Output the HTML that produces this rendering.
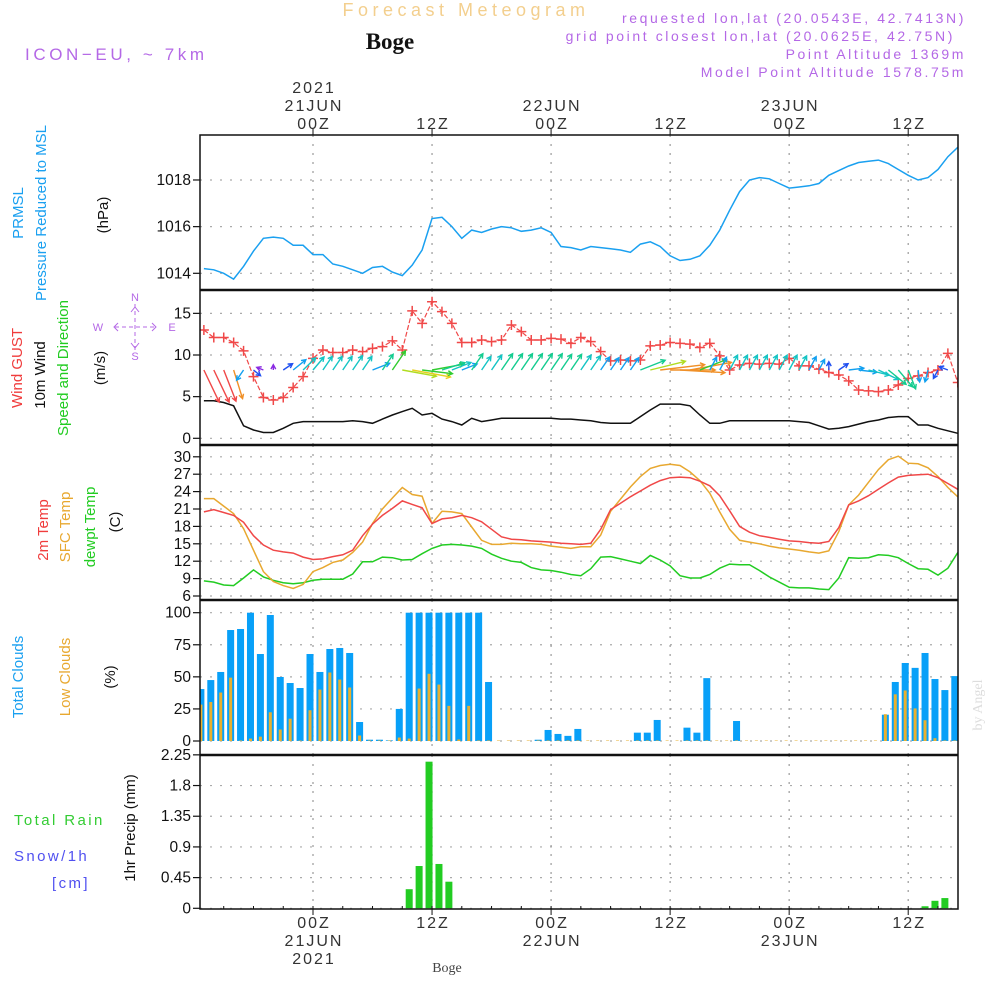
<!DOCTYPE html>
<html><head><meta charset="utf-8">
<style>
html,body{margin:0;padding:0;background:#fff;}
svg{display:block;font-family:"Liberation Sans",sans-serif;}
</style></head>
<body>
<svg id="chart" width="1000" height="1000" viewBox="0 0 1000 1000" xmlns="http://www.w3.org/2000/svg">
  <text x="466" y="16" text-anchor="middle" font-size="18" fill="#f3cf8e" letter-spacing="4.5">Forecast Meteogram</text>
  <text x="390" y="49" text-anchor="middle" font-size="23" font-weight="bold" font-family="Liberation Serif, serif" fill="#111">Boge</text>
  <text x="25" y="60" font-size="17" fill="#b468e6" letter-spacing="3.6">ICON−EU, ~ 7km</text>
  <g font-size="14" fill="#b468e6" text-anchor="end" letter-spacing="2.6">
    <text x="966" y="23">requested lon,lat (20.0543E, 42.7413N)</text>
    <text x="955" y="41">grid point closest lon,lat (20.0625E, 42.75N)</text>
    <text x="966" y="59">Point Altitude 1369m</text>
    <text x="966" y="77">Model Point Altitude 1578.75m</text>
  </g>
  <g font-size="15" text-anchor="middle">
    <text transform="translate(23,213) rotate(-90)" fill="#1aa0f0">PRMSL</text>
    <text transform="translate(46,213) rotate(-90)" fill="#1aa0f0">Pressure Reduced to MSL</text>
    <text transform="translate(108,215) rotate(-90)" fill="#111">(hPa)</text>
    <text transform="translate(22,368) rotate(-90)" fill="#f03c3c">Wind GUST</text>
    <text transform="translate(45,375) rotate(-90)" fill="#111">10m Wind</text>
    <text transform="translate(68,368) rotate(-90)" fill="#22cc22">Speed and Direction</text>
    <text transform="translate(105,368) rotate(-90)" fill="#111">(m/s)</text>
    <text transform="translate(48,530) rotate(-90)" fill="#f03c3c">2m Temp</text>
    <text transform="translate(70,527) rotate(-90)" fill="#e8a830">SFC Temp</text>
    <text transform="translate(95,527) rotate(-90)" fill="#22cc22">dewpt Temp</text>
    <text transform="translate(120,522) rotate(-90)" fill="#111">(C)</text>
    <text transform="translate(23,677) rotate(-90)" fill="#1aa0f0">Total Clouds</text>
    <text transform="translate(70,677) rotate(-90)" fill="#e8a830">Low Clouds</text>
    <text transform="translate(115,677) rotate(-90)" fill="#111">(%)</text>
    <text transform="translate(135,828) rotate(-90)" fill="#111">1hr Precip (mm)</text>
  </g>
  <g font-size="15" letter-spacing="2.4">
    <text x="14" y="825" fill="#33cc33">Total   Rain</text>
    <text x="14" y="861" fill="#5050f0">Snow/1h</text>
    <text x="52" y="888" fill="#5050f0">[cm]</text>
  </g>
  <g stroke="#b468e6" fill="#b468e6" font-size="11">
    <line x1="135" y1="304" x2="135" y2="350" stroke-dasharray="4,3"/>
    <line x1="115" y1="327" x2="155" y2="327" stroke-dasharray="4,3"/>
    <polyline points="118,323 114,327 118,331" fill="none"/>
    <polyline points="152,323 156,327 152,331" fill="none"/>
    <polyline points="131,312 135,307 139,312" fill="none"/>
    <polyline points="131,343 135,348 139,343" fill="none"/>
    <text x="135" y="301" text-anchor="middle" stroke="none">N</text>
    <text x="135" y="360" text-anchor="middle" stroke="none">S</text>
    <text x="98" y="331" text-anchor="middle" stroke="none">W</text>
    <text x="172" y="331" text-anchor="middle" stroke="none">E</text>
  </g>
  <text transform="translate(982,705) rotate(-90)" font-size="14" font-family="Liberation Serif, serif" fill="#ddd" text-anchor="middle">by Angel</text>
  <text x="447" y="972" font-size="14" font-family="Liberation Serif, serif" fill="#444" text-anchor="middle">Boge</text>
  <g id="plot"></g>
</svg>
<script>
const hours = [];
for (let h = -11; h <= 65; h++) hours.push(h);
const pressure = [1014.2,1014.15,1014.0,1013.75,1014.3,1014.95,1015.5,1015.55,1015.5,1015.2,1015.2,
1014.8,1014.8,1014.4,1014.3,1014.15,1014.0,1014.25,1014.3,1014.05,1013.9,
1014.35,1015.0,1016.35,1016.4,1016.0,1015.5,1015.85,1015.75,1015.9,1016.0,
1015.95,1015.8,1015.85,1015.95,1015.75,1015.15,1015.1,1015.0,1015.15,1015.1,
1015.05,1015.0,1014.9,1015.25,1015.35,1015.15,1014.75,1014.55,1014.6,1014.75,
1015.2,1015.85,1016.7,1017.5,1018.0,1018.1,1018.05,1017.85,1017.65,1017.7,
1017.75,1017.85,1018.2,1018.4,1018.6,1018.75,1018.8,1018.85,1018.7,1018.45,
1018.2,1018.0,1018.1,1018.45,1019.0,1019.4];
const gust = [13.0,12.1,12.1,11.5,10.5,7.4,4.9,4.6,4.9,6.1,7.4,
9.6,10.6,10.3,10.3,10.6,10.4,10.8,11.0,11.7,10.6,
15.3,13.8,16.4,15.2,13.8,11.5,11.5,11.8,11.6,11.8,
13.6,12.8,11.8,11.8,12.0,11.9,11.4,12.1,11.6,10.4,
9.3,9.4,9.3,9.4,11.1,11.2,11.5,11.4,11.3,10.9,
11.4,9.9,8.2,8.8,9.0,8.9,9.0,8.9,9.6,8.7,
8.7,8.3,7.9,7.6,6.9,5.8,5.7,5.6,5.8,6.4,
7.2,7.5,7.9,8.2,10.2,6.7];
const windSpeed = [4.5,4.5,4.3,3.9,1.5,1.0,0.7,0.7,1.2,1.8,2.0,
2.0,2.0,2.0,2.0,2.1,2.0,1.8,2.3,2.8,3.2,
3.6,2.8,3.0,2.3,2.0,1.6,2.4,2.0,2.2,2.4,
2.4,2.4,2.4,2.4,2.4,2.3,2.3,2.2,2.1,1.9,
1.8,1.8,1.8,2.6,3.4,4.1,4.1,4.1,3.9,2.8,
1.8,1.8,2.1,2.1,2.1,2.1,2.1,2.1,2.1,2.0,
1.9,1.5,1.1,1.2,1.4,1.7,2.0,2.2,2.5,2.6,
2.6,1.6,1.6,1.2,0.9,0.6];
const windDir = [162,162,165,168,205,140,300,0,45,40,35,
30,25,25,25,25,25,60,25,25,105,
105,100,75,65,60,60,25,25,25,25,
25,25,25,25,25,25,25,25,25,25,
25,25,25,60,70,80,90,95,75,60,
20,20,20,20,20,20,20,20,20,20,
20,20,0,45,80,100,110,125,140,150,
165,175,190,200,300,45];
const temp2m = [20.5,20.9,20.4,19.9,18.7,16.4,14.8,13.9,13.6,13.4,12.7,
12.3,12.4,12.8,13.1,13.9,16.4,18.4,19.9,21.1,22.4,
21.8,21.2,18.5,19.3,19.5,19.9,19.5,18.8,17.5,16.2,
15.8,15.7,15.5,15.4,15.3,15.1,15.0,14.9,15.1,17.5,
20.9,22.0,23.1,24.1,25.1,25.9,26.4,26.5,26.4,25.8,
25.0,23.3,20.7,18.0,17.0,16.4,16.1,15.8,15.5,15.4,
15.2,15.1,15.4,17.8,21.7,22.4,23.3,24.4,25.5,26.5,
26.8,26.9,27.0,26.4,25.4,24.4];
const tempSfc = [22.8,22.8,21.5,20.2,17.6,13.9,10.2,8.5,7.8,7.3,8.0,
10.2,10.9,11.8,12.2,13.5,15.3,18.5,21.0,22.9,24.7,
23.5,23.2,18.5,20.6,20.5,20.2,17.9,15.6,14.9,14.9,
15.1,15.0,15.0,14.9,14.6,14.4,14.2,14.5,14.5,16.5,
20.6,22.7,24.8,26.6,28.0,28.5,28.7,28.5,27.4,25.9,
23.7,20.5,17.5,15.6,15.3,15.0,14.6,14.3,14.1,13.9,
13.6,13.4,13.8,17.1,21.7,23.4,25.6,27.8,29.5,30.1,
28.9,28.8,28.1,26.6,24.7,23.1];
const dewpoint = [8.6,8.4,7.9,7.8,9.1,10.5,9.3,8.7,8.3,8.1,8.3,
8.7,8.9,8.9,8.9,9.8,11.9,11.9,12.7,12.6,12.2,
12.3,13.3,14.2,14.8,14.9,14.8,14.6,14.2,13.2,12.5,
12.0,11.8,10.9,10.5,10.4,10.1,9.7,9.5,10.7,12.7,
12.8,12.4,12.0,11.6,13.0,12.2,11.2,9.5,9.1,9.1,
9.7,10.8,11.5,11.4,11.4,10.4,9.3,8.4,7.5,7.4,
7.4,7.2,7.1,9.1,12.6,12.5,12.6,13.1,13.0,12.6,
11.6,10.7,10.6,9.6,10.8,13.5];
const totalClouds = [40.5,47.5,53.8,86.5,87.3,100,67.8,98.2,49.9,45.2,41.3,
67.8,53.8,71.7,72.5,68.6,14.8,1,1,0.5,25,
100,100,100,100,100,100,100,100,46,0,
0,0,0,1,8.6,5.5,4,9.4,0,0,
0,0,0,6.5,6.5,16.4,0,0,10.4,6.5,
49,0,0,15.6,0,0,0,0,0,0,
0,0,0,0,0,0,0,0,20.5,46,
60.8,57,68.6,48.3,39.7,50.6];
const lowClouds = [28,30,37.4,49,0,1.5,3,22,8.6,17,0,
23.6,39.7,53,47.5,41.3,3.9,0,0,0,2.3,
1.5,40.5,52,43.6,27,0.8,27,0,0,0,
0,0,0,0,0,0,0,0,0,0,
0,0,0,0,0,0,0,0,0,0,
0,0,0,0,0,0,0,0,0,0,
0,0,0,0,0,0,0,0,20.5,36,
39,25,15.8,1.8,0,0];
const precip = [0,0,0,0,0,0,0,0,0,0,0,
0,0,0,0,0,0,0,0,0,0,
0.28,0.62,2.15,0.65,0.39,0,0,0,0,0,
0,0,0,0,0,0,0,0,0,0,
0,0,0,0,0,0,0,0,0,0,
0,0,0,0,0,0,0,0,0,0,
0,0,0,0,0,0,0,0,0,0,
0,0,0.03,0.11,0.15,0];
const pressTicks = [1014,1016,1018];
const windTicks = [0,5,10,15];
const tempTicks = [6,9,12,15,18,21,24,27,30];
const cloudTicks = [0,25,50,75,100];
const precipTicks = [0,0.45,0.9,1.35,1.8,2.25];
const precipTickLabels = ["0","0.45","0.9","1.35","1.8","2.25"];
const timeTicks = [0,12,24,36,48,60];
const topLabels = [["2021","21JUN","00Z"],["12Z"],["22JUN","00Z"],["12Z"],["23JUN","00Z"],["12Z"]];
const bottomLabels = [["00Z","21JUN","2021"],["12Z"],["00Z","22JUN"],["12Z"],["00Z","23JUN"],["12Z"]];

const NS = "http://www.w3.org/2000/svg";
const plot = document.getElementById('plot');
const L = 200, R = 958;
const x = t => 313 + t * 9.92;
const panels = {
  p: {top:135, bot:290, y: v => 273.3 - (v - 1014) * 23.33},
  w: {top:290, bot:445, y: v => 438.3 - v * 8.33},
  t: {top:445, bot:600, y: v => 596 - (v - 6) * 5.8},
  c: {top:600, bot:755, y: v => 741 - v * 1.283},
  r: {top:755, bot:909, y: v => 908.3 - v * 68.2}
};
function el(tag, attrs, parent) {
  const e = document.createElementNS(NS, tag);
  for (const k in attrs) e.setAttribute(k, attrs[k]);
  (parent || plot).appendChild(e);
  return e;
}
const defs = el('defs', {});
for (const k in panels) {
  const cp = el('clipPath', {id: 'clip-' + k}, defs);
  el('rect', {x: L, y: panels[k].top, width: R - L, height: panels[k].bot - panels[k].top}, cp);
}
function grid(k, ticks, labels, name) {
  const P = panels[k];
  const g = el('g', {});
  
  
  ticks.forEach((v, i) => {
    const yy = P.y(v);
    el('line', {x1: L, x2: R, y1: yy, y2: yy, stroke: '#aaa', 'stroke-width': 1.2, 'stroke-dasharray': '2,8'}, g);
    el('line', {x1: 193, x2: L, y1: yy, y2: yy, stroke: '#111', 'stroke-width': 1.2}, g);
    const tx = el('text', {x: 191, y: yy + 5, 'text-anchor': 'end', 'font-size': 15.5, fill: '#111'}, g);
    tx.textContent = labels ? labels[i] : String(v);
    
    
  });
  timeTicks.forEach(t => {
    el('line', {x1: x(t), x2: x(t), y1: P.top, y2: P.bot, stroke: '#999', 'stroke-width': 1.2, 'stroke-dasharray': '2,7'}, g);
  });
}
grid('p', pressTicks, null, 'pressure');
grid('w', windTicks, null, 'wind');
grid('t', tempTicks, null, 'temp');
grid('c', cloudTicks, null, 'cloud');
grid('r', precipTicks, precipTickLabels, 'precip');

function line(k, data, color, name) {
  const P = panels[k];
  const pts = data.map((v, i) => x(hours[i]).toFixed(1) + ',' + P.y(v).toFixed(1)).join(' ');
  const pl = el('polyline', {points: pts, fill: 'none', stroke: color, 'stroke-width': 1.5, 'clip-path': 'url(#clip-' + k + ')'});
  
  
  return pl;
}
line('p', pressure, '#1aa0f0', 'pressure-line');
line('w', windSpeed, '#111', 'wind-speed-line');
const gl = line('w', gust, '#f04848', 'gust-line');
gl.setAttribute('stroke-dasharray', '5,2');
gl.setAttribute('stroke-width', '1.2');
gust.forEach((v, i) => {
  const cx = x(hours[i]), cy = panels.w.y(v);
  const m = el('path', {d: `M${cx-5},${cy}H${cx+5}M${cx},${cy-5}V${cy+5}`, stroke: '#f04848', 'stroke-width': 1.5, 'clip-path': 'url(#clip-w)'});
  
  
});
function windColor(s) {
  if (s < 0.9) return '#8a2be2';
  if (s < 1.4) return '#2050f0';
  if (s < 1.95) return '#12a0f0';
  if (s < 2.25) return '#14c4c4';
  if (s < 2.7) return '#14cc90';
  if (s < 3.1) return '#30cc30';
  if (s < 3.5) return '#b0dc20';
  if (s < 3.8) return '#e8d020';
  if (s < 4.3) return '#f09028';
  return '#f04848';
}
windDir.forEach((d, i) => {
  const s = windSpeed[i];
  const a = d * Math.PI / 180;
  const x0 = x(hours[i]), y0 = 370;
  const x1 = x0 + Math.sin(a) * s * 11, y1 = y0 - Math.cos(a) * s * 7.5;
  const ang = Math.atan2(y1 - y0, x1 - x0);
  const h = 5;
  const col = windColor(s);
  const p = `M${x0},${y0}L${x1},${y1}M${x1 - h*Math.cos(ang-0.5)},${y1 - h*Math.sin(ang-0.5)}L${x1},${y1}L${x1 - h*Math.cos(ang+0.5)},${y1 - h*Math.sin(ang+0.5)}`;
  const ar = el('path', {d: p, stroke: col, 'stroke-width': 1.4, fill: 'none', 'clip-path': 'url(#clip-w)'});
  
  
});
line('t', dewpoint, '#22cc22', 'dewpoint-line');
line('t', tempSfc, '#e8a830', 'sfc-temp-line');
line('t', temp2m, '#f04848', 't2m-line');
totalClouds.forEach((v, i) => {
  const cx = x(hours[i]) - 3, P = panels.c;
  if (v > 0) {
    const b = el('rect', {x: cx - 3.5, y: P.y(v), width: 7, height: P.y(0) - P.y(v), fill: '#08a0f8', 'clip-path': 'url(#clip-c)'});
    
    
  }
  const lv = lowClouds[i];
  const ob = el('rect', {x: cx - 1.5, y: P.y(lv) - 0.5, width: 3, height: P.y(0) - P.y(lv) + 0.5, fill: '#e8b030', 'clip-path': 'url(#clip-c)'});
  
  
});
precip.forEach((v, i) => {
  if (v <= 0) return;
  const cx = x(hours[i]) - 3, P = panels.r;
  const b = el('rect', {x: cx - 3.5, y: P.y(v), width: 7, height: P.y(0) - P.y(v), fill: '#22cc22', 'clip-path': 'url(#clip-r)'});
  
  
});
const fr = el('g', {});


el('rect', {x: L, y: 135, width: R - L, height: 909 - 135, fill: 'none', stroke: '#111', 'stroke-width': 1.5}, fr);
[290, 445, 600, 755].forEach(yy => el('line', {x1: L, x2: R, y1: yy, y2: yy, stroke: '#111', 'stroke-width': 2.5}, fr));
for (let h = -9; h <= 63; h += 3) {
  el('line', {x1: x(h), x2: x(h), y1: 906, y2: 909, stroke: '#111', 'stroke-width': 1}, fr);
}
const ta = el('g', {'font-size': 16, fill: '#333', 'text-anchor': 'middle', 'letter-spacing': '2'});


timeTicks.forEach((t, i) => {
  el('line', {x1: x(t), x2: x(t), y1: 129, y2: 135, stroke: '#111'}, ta);
  el('line', {x1: x(t), x2: x(t), y1: 909, y2: 915, stroke: '#111'}, ta);
  const top = topLabels[i];
  top.forEach((s, j) => {
    const tx = el('text', {x: x(t) + 1, y: 129 - (top.length - 1 - j) * 18}, ta);
    tx.textContent = s;
    
    
  });
  bottomLabels[i].forEach((s, j) => {
    const tx = el('text', {x: x(t) + 1, y: 928 + j * 18}, ta);
    tx.textContent = s;
    
    
  });
});
</script>
</body></html>
